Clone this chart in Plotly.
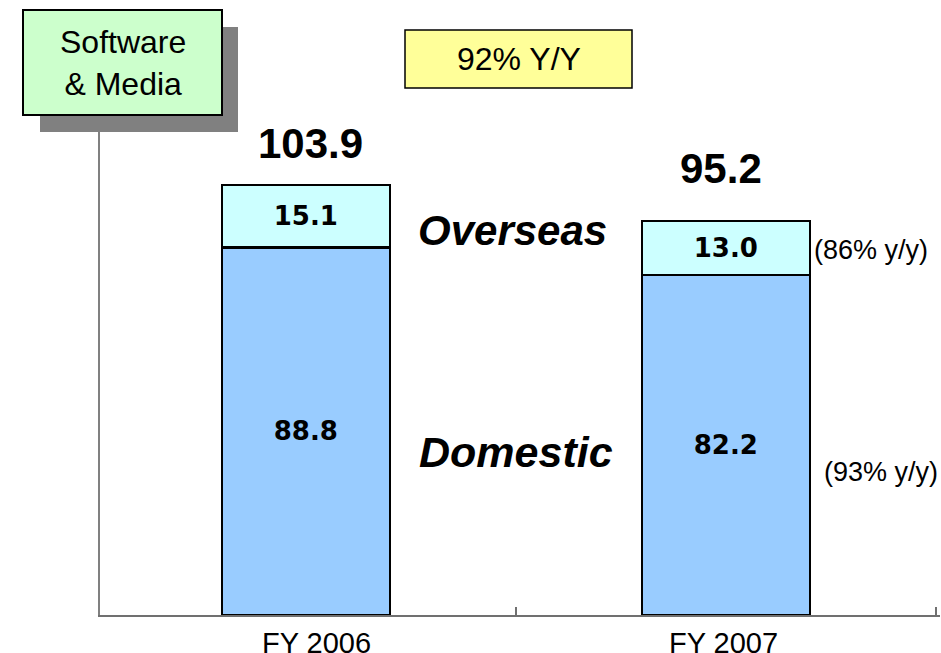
import plotly.graph_objects as go

categories = ["FY 2006", "FY 2007"]
domestic = [88.8, 82.2]
overseas = [15.1, 13.0]
totals = [103.9, 95.2]
overseas_yy = "(86% y/y)"
domestic_yy = "(93% y/y)"
segment_title = "Software<br>& Media"
total_yy = "92% Y/Y"

W, H = 941, 653
L, R, T, B = 100, 1, 130, 38
PW, PH = W - L - R, H - T - B

def px(x):
    return (x - L) / PW

def py(y):
    return (H - B - y) / PH

FONT = "Arial, Liberation Sans, sans-serif"
NUMFONT = "DejaVu Sans, Verdana, sans-serif"

fig = go.Figure()
fig.add_trace(go.Bar(
    x=categories, y=domestic, name="Domestic", width=0.4,
    marker=dict(color="#99CCFF", line=dict(color="black", width=2.5)),
    text=[f"{v:.1f}" for v in domestic], textposition="inside",
    insidetextanchor="middle", textangle=0,
    textfont=dict(family=NUMFONT, size=26, color="black", weight="bold"),
))
fig.add_trace(go.Bar(
    x=categories, y=overseas, name="Overseas", width=0.4,
    marker=dict(color="#CCFFFF", line=dict(color="black", width=2.5)),
    text=[f"{v:.1f}" for v in overseas], textposition="inside",
    insidetextanchor="middle", textangle=0,
    textfont=dict(family=NUMFONT, size=26, color="black", weight="bold"),
))

def note(x, y, text, size):
    fig.add_annotation(x=px(x), y=py(y), xref="paper", yref="paper",
                       xanchor="center", yanchor="middle",
                       text=text, showarrow=False,
                       font=dict(family=FONT, size=size, color="black"))

# category labels (slightly off-centre in the original)
label_shift = [11, -2]
for c, s in zip(categories, label_shift):
    fig.add_annotation(x=c, y=py(643), xref="x", yref="paper", xshift=s,
                       xanchor="center", yanchor="middle", text=c, showarrow=False,
                       font=dict(family=FONT, size=29, color="black"))

# totals
tot_pos = [(310, 143), (721, 168)]
for t, (x, y) in zip(totals, tot_pos):
    note(x, y, f"<b>{t:.1f}</b>", 42)

note(512, 230, "<b><i>Overseas</i></b>", 42)
note(516, 452, "<b><i>Domestic</i></b>", 43)
note(871, 250, overseas_yy, 27)
note(881, 472, domestic_yy, 27)

# Software & Media box with shadow
fig.add_shape(type="rect", xref="paper", yref="paper",
              x0=px(40), x1=px(238), y0=py(132), y1=py(27),
              fillcolor="#808080", line=dict(width=0), layer="above")
fig.add_shape(type="rect", xref="paper", yref="paper",
              x0=px(23), x1=px(222), y0=py(115), y1=py(10),
              fillcolor="#CCFFCC", line=dict(color="black", width=2), layer="above")
note(122.5, 63, segment_title, 32)

# Y/Y box
fig.add_shape(type="rect", xref="paper", yref="paper",
              x0=px(405), x1=px(632), y0=py(88), y1=py(30),
              fillcolor="#FFFF99", line=dict(color="black", width=1.5), layer="above")
note(518.5, 59, total_yy, 32)

fig.update_layout(
    width=W, height=H, barmode="stack", showlegend=False,
    margin=dict(l=L, r=R, t=T, b=B, pad=0, autoexpand=False),
    paper_bgcolor="white", plot_bgcolor="white",
    xaxis=dict(range=[-0.49, 1.51], showline=True, linecolor="#707070", linewidth=2,
               ticks="inside", tickson="boundaries", ticklen=8, tickcolor="#707070",
               tickwidth=1.5, showgrid=False, zeroline=False, automargin=False,
               showticklabels=False),
    yaxis=dict(range=[0, 117.2], showline=True, linecolor="#808080", linewidth=1.5,
               showticklabels=False, ticks="", showgrid=False, zeroline=False,
               automargin=False),
)

fig.write_html(
    "out.html",
    config={"displayModeBar": False},
    post_script="document.body.style.margin='0';document.body.style.overflow='hidden';",
)
